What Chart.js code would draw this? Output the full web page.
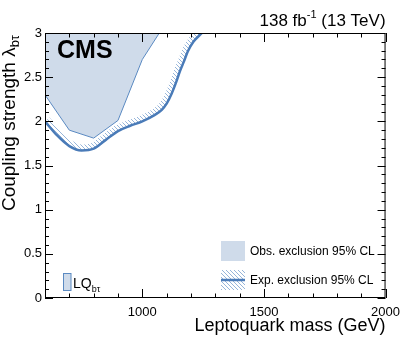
<!DOCTYPE html>
<html>
<head>
<meta charset="utf-8">
<script src="https://cdn.jsdelivr.net/npm/chart.js@4.4.0/dist/chart.umd.min.js"></script>
<style>
html, body { margin: 0; padding: 0; background: #fff; }
#wrap { width: 407px; height: 339px; position: relative; }
</style>
</head>
<body>
<div id="wrap"><canvas id="c"></canvas></div>
<script>
// Observed exclusion boundary (region above is excluded)
const obsMass = [600, 700, 800, 900, 1000, 1070];
const obsCoupling = [2.30, 1.90, 1.81, 2.01, 2.70, 3.00];
// Expected exclusion contour
const expMass = [600, 650, 700, 750, 800, 850, 900, 950, 1000, 1050, 1080, 1100, 1120, 1140, 1155, 1170, 1187, 1210, 1245];
const expCoupling = [2.00, 1.84, 1.72, 1.67, 1.69, 1.79, 1.89, 1.95, 2.00, 2.07, 2.13, 2.20, 2.31, 2.45, 2.57, 2.67, 2.79, 2.90, 3.00];
const xTicks = [1000, 1500, 2000];
const yTicks = [0, 0.5, 1, 1.5, 2, 2.5, 3];

const FONT = '"Liberation Sans", Arial, Helvetica, sans-serif';
const C_FILL = '#cfdbea', C_EDGE = '#5b8ac2', C_LINE = '#4a7bb8', C_HATCH = '#97b5d9';

function hatchPattern(ctx) {
  const s = 4;
  const cv = document.createElement('canvas');
  cv.width = s; cv.height = s;
  const g = cv.getContext('2d');
  g.strokeStyle = C_HATCH; g.lineWidth = 1;
  g.beginPath();
  g.moveTo(0, 0); g.lineTo(s, s);
  g.moveTo(-1, s - 1); g.lineTo(1, s + 1);
  g.moveTo(s - 1, -1); g.lineTo(s + 1, 1);
  g.stroke();
  return ctx.createPattern(cv, 'repeat');
}

// hatching on the excluded side of the expected line
const hatchBand = {
  id: 'hatchBand',
  beforeDatasetDraw(chart, args) {
    if (args.index !== 0) return;
    const line = args.meta.dataset;
    const pts = args.meta.data;
    const { ctx, chartArea: a } = chart;
    const first = pts[0], last = pts[pts.length - 1];
    ctx.save();
    ctx.beginPath();
    ctx.rect(a.left, a.top, a.right - a.left, a.bottom - a.top);
    ctx.clip();
    ctx.beginPath();
    line.path(ctx);
    ctx.lineTo(last.x, a.top - 30);
    ctx.lineTo(a.left - 30, a.top - 30);
    ctx.lineTo(a.left - 30, first.y);
    ctx.closePath();
    ctx.clip();
    ctx.beginPath();
    line.path(ctx);
    ctx.lineWidth = 12;
    ctx.lineJoin = 'round';
    ctx.strokeStyle = hatchPattern(ctx);
    ctx.stroke();
    ctx.restore();
  }
};

// ROOT style frame with inward ticks
const frame = {
  id: 'frame',
  afterDatasetsDraw(chart) {
    const { ctx, chartArea: a, scales: { x, y } } = chart;
    ctx.save();
    ctx.strokeStyle = '#000';
    ctx.lineWidth = 1;
    ctx.strokeRect(a.left + 0.5, a.top + 0.5, a.right - a.left - 1, a.bottom - a.top - 1);
    ctx.beginPath();
    for (let v = x.min; v <= x.max; v += 100) {
      const px = Math.round(x.getPixelForValue(v)) + 0.5;
      const len = v % 500 === 0 ? 9 : 4.5;
      ctx.moveTo(px, a.bottom); ctx.lineTo(px, a.bottom - len);
      ctx.moveTo(px, a.top); ctx.lineTo(px, a.top + len);
    }
    for (let i = 0; i <= 30; i++) {
      const py = Math.round(y.getPixelForValue(i / 10)) + 0.5;
      const len = i % 5 === 0 ? 8 : 4;
      ctx.moveTo(a.left, py); ctx.lineTo(a.left + len, py);
      ctx.moveTo(a.right, py); ctx.lineTo(a.right - len, py);
    }
    ctx.stroke();
    ctx.restore();
  },
  afterDraw(chart) {
    const { ctx, chartArea: a } = chart;
    ctx.save();
    ctx.fillStyle = '#000';
    ctx.textBaseline = 'alphabetic';

    // CMS label
    ctx.font = 'bold 25px ' + FONT;
    ctx.textAlign = 'left';
    ctx.fillText('CMS', 57, 58);

    // luminosity label
    const t1 = '138 fb', t3 = ' (13 TeV)';
    ctx.font = '11px ' + FONT;
    const w2 = ctx.measureText('-1').width;
    ctx.font = '17px ' + FONT;
    const w1 = ctx.measureText(t1).width, w3 = ctx.measureText(t3).width;
    const xs = a.right - (w1 + w2 + w3);
    ctx.fillText(t1, xs, 26);
    ctx.font = '11px ' + FONT;
    ctx.fillText('-1', xs + w1, 18);
    ctx.font = '17px ' + FONT;
    ctx.fillText(t3, xs + w1 + w2, 26);

    // x title
    ctx.font = '18px ' + FONT;
    ctx.textAlign = 'right';
    ctx.fillText('Leptoquark mass (GeV)', a.right, 331);

    // y title
    ctx.save();
    ctx.translate(15, 35);
    ctx.rotate(-Math.PI / 2);
    ctx.font = '13px ' + FONT;
    const ws = ctx.measureText('b\u03c4').width;
    ctx.fillText('b\u03c4', 0, 4);
    ctx.font = '19px ' + FONT;
    ctx.fillText('Coupling strength \u03bb', -ws, 0);
    ctx.restore();

    // legend
    ctx.textAlign = 'left';
    ctx.textBaseline = 'middle';
    ctx.fillStyle = C_FILL;
    ctx.fillRect(221, 241, 24, 20);
    ctx.fillStyle = hatchPattern(ctx);
    ctx.fillRect(221, 270, 24, 20);
    ctx.strokeStyle = C_LINE;
    ctx.lineWidth = 2.5;
    ctx.beginPath(); ctx.moveTo(221, 280); ctx.lineTo(245, 280); ctx.stroke();
    ctx.fillStyle = '#000';
    ctx.font = '12px ' + FONT;
    ctx.fillText('Obs. exclusion 95% CL', 250, 252);
    ctx.fillText('Exp. exclusion 95% CL', 250, 281);

    // LQ box
    ctx.fillStyle = C_FILL;
    ctx.fillRect(63.5, 273.5, 7.5, 17);
    ctx.strokeStyle = C_EDGE; ctx.lineWidth = 1;
    ctx.strokeRect(63.5, 273.5, 7.5, 17);
    ctx.fillStyle = '#000';
    ctx.textBaseline = 'alphabetic';
    ctx.font = '14px ' + FONT;
    ctx.fillText('LQ', 73, 288);
    const wl = ctx.measureText('LQ').width;
    ctx.font = '9px ' + FONT;
    ctx.fillText('b\u03c4', 73 + wl, 292);
    ctx.restore();
  }
};

const tickFont = { family: FONT, size: 13 };

new Chart(document.getElementById('c'), {
  type: 'line',
  data: {
    datasets: [
      {
        label: 'Exp. exclusion 95% CL',
        data: expMass.map((m, i) => ({ x: m, y: expCoupling[i] })),
        borderColor: C_LINE,
        borderWidth: 2.5,
        cubicInterpolationMode: 'monotone',
        pointRadius: 0,
        fill: false
      },
      {
        label: 'Obs. exclusion 95% CL',
        data: obsMass.map((m, i) => ({ x: m, y: obsCoupling[i] })),
        borderColor: C_EDGE,
        borderWidth: 1,
        backgroundColor: C_FILL,
        tension: 0,
        pointRadius: 0,
        fill: 'end'
      }
    ]
  },
  options: {
    responsive: true,
    maintainAspectRatio: false,
    animation: false,
    layout: { padding: { top: 33, right: 21, left: 0, bottom: 0 } },
    plugins: { legend: { display: false }, tooltip: { enabled: false } },
    scales: {
      x: {
        type: 'linear', min: 600, max: 2000,
        afterBuildTicks: s => { s.ticks = xTicks.map(v => ({ value: v })); },
        afterFit: s => { s.height = 41; },
        grid: { display: false, drawTicks: false },
        border: { display: false },
        ticks: { font: tickFont, color: '#000', padding: 7, maxRotation: 0, autoSkip: false, callback: v => String(v) }
      },
      y: {
        type: 'linear', min: 0, max: 3,
        afterBuildTicks: s => { s.ticks = yTicks.map(v => ({ value: v })); },
        afterFit: s => { s.width = 45; },
        grid: { display: false, drawTicks: false },
        border: { display: false },
        ticks: { font: tickFont, color: '#000', padding: 3, autoSkip: false, callback: v => String(v) }
      }
    }
  },
  plugins: [hatchBand, frame]
});
</script>
</body>
</html>
